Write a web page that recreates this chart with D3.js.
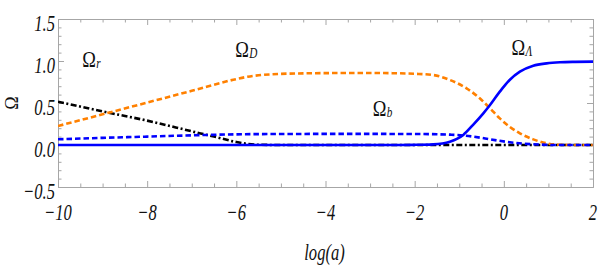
<!DOCTYPE html>
<html>
<head>
<meta charset="utf-8">
<script src="https://cdn.jsdelivr.net/npm/d3@7"></script>
<style>
  html, body { margin: 0; padding: 0; background: #fff; }
  svg { display: block; }
</style>
</head>
<body>
<svg id="chart" width="599" height="273"></svg>
<script>
// ---- data ----
const xTicks = [-10, -8, -6, -4, -2, 0, 2];
const xTickLabels = ["\u221210", "\u22128", "\u22126", "\u22124", "\u22122", "0", "2"];
const yTicks = [-0.5, 0, 0.5, 1, 1.5];
const yTickLabels = ["\u22120.5", "0.0", "0.5", "1.0", "1.5"];

const logA_r = [-10, -9, -8, -7, -6.5, -6, -5.75, -5.5, -5, -4, -3, -2, -1, 0, 1, 2];
const omegaR = [0.515, 0.40, 0.29, 0.163, 0.10, 0.035, 0.013, 0.003, 0, 0, 0, 0, 0, 0, 0, 0];

const logA_D = [-10, -9, -8, -7, -6, -5.75, -5.5, -5.25, -5, -4.5, -4, -3, -2.5, -2, -1.585, -1.21, -0.836, -0.54, -0.31, -0.09, 0.13, 0.36, 0.66, 0.96, 1.26, 1.6, 2];
const omegaD = [0.226, 0.365, 0.505, 0.645, 0.785, 0.812, 0.83, 0.84, 0.847, 0.853, 0.856, 0.857, 0.855, 0.848, 0.833, 0.774, 0.675, 0.556, 0.437, 0.317, 0.218, 0.139, 0.067, 0.02, 0.003, 0, 0];

const logA_b = [-10, -9, -8, -7, -6, -5, -4, -3, -2, -1.5, -1.2, -0.9, -0.5, -0.1, 0.35, 0.8, 1.2, 2];
const omegaB = [0.068, 0.085, 0.10, 0.115, 0.127, 0.131, 0.132, 0.132, 0.131, 0.128, 0.123, 0.113, 0.085, 0.05, 0.02, 0.005, 0, 0];

const logA_L = [-10, -4, -2.5, -2, -1.585, -1.21, -0.91, -0.69, -0.46, -0.31, -0.09, 0.13, 0.36, 0.66, 0.96, 1.26, 1.6, 2];
const omegaL = [0, 0, 0, 0.002, 0.008, 0.04, 0.12, 0.24, 0.377, 0.476, 0.635, 0.774, 0.873, 0.944, 0.972, 0.985, 0.99, 0.992];

// label anchors in data coordinates
const curveLabels = [
  { main: "\u03A9", sub: "r", x: -9.455, y: 0.929 },
  { main: "\u03A9", sub: "D", x: -6.025, y: 1.048 },
  { main: "\u03A9", sub: "b", x: -2.94, y: 0.345 },
  { main: "\u03A9", sub: "\u039B", x: 0.173, y: 1.071 }
];

// ---- layout ----
const FONT = "Liberation Serif";
const svg = d3.select("#chart");
const L = 58, R = 593, T = 19, B = 187;
const x = d3.scaleLinear().domain([-10, 2]).range([L, R]);
const y = d3.scaleLinear().domain([-0.5, 1.5]).range([B, T]);
const frameColor = "#a6a6a6";
const SX = 0.72;

// clip
svg.append("defs").append("clipPath").attr("id", "clip")
  .append("rect").attr("x", L).attr("y", T).attr("width", R - L).attr("height", B - T);

// frame + ticks via d3 axes
const xMinor = d3.range(-10, 2.001, 0.5).filter(v => Math.abs(v / 2 - Math.round(v / 2)) > 1e-6);
const yMinor = d3.range(-0.5, 1.5001, 0.1).filter(v => Math.abs(v * 2 - Math.round(v * 2)) > 1e-6);

function styleAxis(g) {
  g.selectAll("path").attr("stroke", frameColor).attr("stroke-width", 1);
  g.selectAll("line").attr("stroke", frameColor).attr("stroke-width", 1);
  g.selectAll("text").remove();
}
svg.append("g").attr("transform", `translate(0,${B})`)
  .call(d3.axisBottom(x).tickValues(xTicks).tickSize(-6).tickSizeOuter(0)).call(styleAxis);
svg.append("g").attr("transform", `translate(0,${B})`)
  .call(d3.axisBottom(x).tickValues(xMinor).tickSize(-3.5).tickSizeOuter(0)).call(styleAxis);
svg.append("g").attr("transform", `translate(0,${T})`)
  .call(d3.axisTop(x).tickValues(xTicks).tickSize(-6).tickSizeOuter(0)).call(styleAxis);
svg.append("g").attr("transform", `translate(0,${T})`)
  .call(d3.axisTop(x).tickValues(xMinor).tickSize(-3.5).tickSizeOuter(0)).call(styleAxis);
svg.append("g").attr("transform", `translate(${L},0)`)
  .call(d3.axisLeft(y).tickValues(yTicks).tickSize(-6).tickSizeOuter(0)).call(styleAxis);
svg.append("g").attr("transform", `translate(${L},0)`)
  .call(d3.axisLeft(y).tickValues(yMinor).tickSize(-3.5).tickSizeOuter(0)).call(styleAxis);
svg.append("g").attr("transform", `translate(${R},0)`)
  .call(d3.axisRight(y).tickValues(yTicks).tickSize(-6).tickSizeOuter(0)).call(styleAxis);
svg.append("g").attr("transform", `translate(${R},0)`)
  .call(d3.axisRight(y).tickValues(yMinor).tickSize(-3.5).tickSizeOuter(0)).call(styleAxis);

// tick labels (condensed italic serif)
svg.append("g").selectAll("text").data(xTicks).join("text")
  .attr("transform", d => `translate(${x(d)},${B + 33}) scale(${SX},1)`)
  .attr("text-anchor", "middle").attr("font-family", FONT)
  .attr("font-style", "italic").attr("font-size", 23).attr("fill", "#111")
  .text((d, i) => xTickLabels[i]);
svg.append("g").selectAll("text").data(yTicks).join("text")
  .attr("transform", d => `translate(${L - 3},${y(d) + 11.5}) scale(${SX},1)`)
  .attr("text-anchor", "end").attr("font-family", FONT)
  .attr("font-style", "italic").attr("font-size", 23).attr("fill", "#111")
  .text((d, i) => yTickLabels[i]);

// axis titles
svg.append("text")
  .attr("transform", `translate(${(L + R) / 2 - 1},${260}) scale(${SX},1)`)
  .attr("text-anchor", "middle").attr("font-family", FONT)
  .attr("font-style", "italic").attr("font-size", 23).attr("fill", "#111")
  .text("log(a)");
svg.append("text")
  .attr("transform", `translate(18,${(T + B) / 2}) rotate(-90)`)
  .attr("text-anchor", "middle").attr("font-family", FONT)
  .attr("font-size", 18).attr("fill", "#111")
  .text("\u03A9");

// curves
const line = (xs, ys) => d3.line().curve(d3.curveMonotoneX)
  .x((d, i) => x(xs[i])).y((d, i) => y(ys[i]))(ys);
const plot = svg.append("g").attr("clip-path", "url(#clip)");

plot.append("path").attr("d", line(logA_r, omegaR))
  .attr("fill", "none").attr("stroke", "#000").attr("stroke-width", 2.6)
  .attr("stroke-dasharray", "6,2.5,2,2.5");
plot.append("path").attr("d", line(logA_D, omegaD))
  .attr("fill", "none").attr("stroke", "#ff8000").attr("stroke-width", 2.6)
  .attr("stroke-dasharray", "5.5,3");
plot.append("path").attr("d", line(logA_b, omegaB))
  .attr("fill", "none").attr("stroke", "#0000ff").attr("stroke-width", 2.6)
  .attr("stroke-dasharray", "5.5,3");
plot.append("path").attr("d", line(logA_L, omegaL))
  .attr("fill", "none").attr("stroke", "#0000ff").attr("stroke-width", 2.6);

// curve labels
const lg = svg.append("g");
curveLabels.forEach(c => {
  const px = x(c.x), py = y(c.y);
  lg.append("text")
    .attr("transform", `translate(${px},${py}) scale(0.8,1)`)
    .attr("font-family", FONT)
    .attr("font-size", 23).attr("fill", "#111").text(c.main);
  lg.append("text")
    .attr("transform", `translate(${px + 14},${py + 1}) scale(0.8,1)`)
    .attr("font-family", FONT)
    .attr("font-size", 14).attr("font-style", "italic").attr("fill", "#111").text(c.sub);
});
</script>
</body>
</html>
